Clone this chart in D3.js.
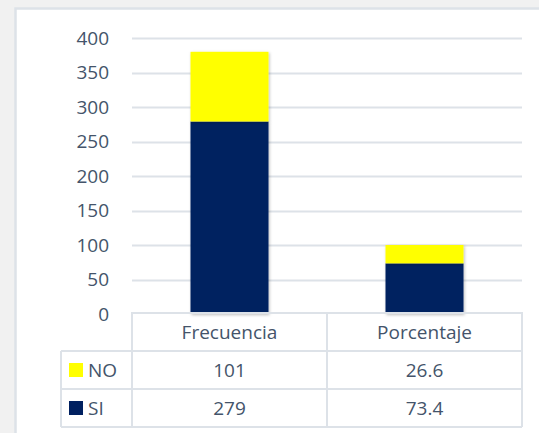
<!DOCTYPE html>
<html>
<head>
<meta charset="utf-8">
<script src="https://cdn.jsdelivr.net/npm/d3@7"></script>
<style>
  html, body { margin: 0; padding: 0; background: #f1f1f1; }
  svg { display: block; }
</style>
</head>
<body>
<div id="chart"></div>
<script>
// data
const categories = ["Frecuencia", "Porcentaje"];
const seriesNames = ["SI", "NO"];
const siValues = [279, 73.4];
const noValues = [101, 26.6];
const yTicks = [0, 50, 100, 150, 200, 250, 300, 350, 400];
const colors = {SI: "#002060", NO: "#FFFF00"};

const width = 539, height = 433;
const margin = {top: 38, left: 132, right: 17, bottom: 119};
const textColor = "#44546A";
const lineColor = "#dde2e8";
const font = "'Open Sans', sans-serif";
const fs = "19px";

const svg = d3.select("#chart").append("svg")
    .attr("width", width)
    .attr("height", height)
    .style("font-family", font);

// shadow for bars
const defs = svg.append("defs");
const f = defs.append("filter").attr("id", "shadow")
    .attr("x", "-20%").attr("y", "-20%").attr("width", "140%").attr("height", "140%");
f.append("feDropShadow").attr("dx", 1).attr("dy", 1).attr("stdDeviation", 1.5)
    .attr("flood-color", "#000").attr("flood-opacity", 0.25);

// background panel
svg.append("rect")
    .attr("x", 15.5).attr("y", 8.5)
    .attr("width", width).attr("height", height)
    .attr("fill", "#fff")
    .attr("stroke", lineColor)
    .attr("stroke-width", 2.5);

const x = d3.scaleBand()
    .domain(categories)
    .range([margin.left, width - margin.right])
    .paddingInner(0).paddingOuter(0);

const y = d3.scaleLinear()
    .domain([0, 400])
    .range([height - margin.bottom, margin.top]);

// gridlines
svg.append("g")
  .selectAll("line")
  .data(yTicks.filter(d => d > 0))
  .join("line")
    .attr("x1", margin.left)
    .attr("x2", width - margin.right)
    .attr("y1", d => Math.round(y(d)) + 0.5)
    .attr("y2", d => Math.round(y(d)) + 0.5)
    .attr("stroke", lineColor)
    .attr("stroke-width", 2);

// y axis labels
const yAxis = d3.axisLeft(y).tickValues(yTicks).tickSize(0).tickPadding(0);
const gy = svg.append("g")
    .attr("transform", `translate(${margin.left - 23},0)`)
    .call(yAxis);
gy.select(".domain").remove();
gy.selectAll("text")
    .attr("fill", textColor)
    .style("font-size", fs)
    .style("font-family", font);

// stacked bars
const table = categories.map((c, i) => ({cat: c, SI: siValues[i], NO: noValues[i]}));
const stack = d3.stack().keys(seriesNames)(table);
const barW = x.bandwidth() * 0.4;

svg.append("g")
  .selectAll("g")
  .data(stack)
  .join("g")
    .attr("fill", d => colors[d.key])
  .selectAll("rect")
  .data(d => d)
  .join("rect")
    .attr("x", d => x(d.data.cat) + (x.bandwidth() - barW) / 2)
    .attr("y", d => y(d[1]))
    .attr("width", barW)
    .attr("height", d => y(d[0]) - y(d[1]))
    .attr("filter", "url(#shadow)");

// data table
const rowH = 38;
const top0 = y(0) - 1;
const tbl = svg.append("g")
    .attr("stroke", lineColor)
    .attr("stroke-width", 2)
    .attr("fill", "none");

const xl = 61, xr = width - margin.right;
// header row
tbl.append("path")
    .attr("d", `M${margin.left},${top0 + 3 * rowH} V${top0} H${xr} V${top0 + 3 * rowH}`);
categories.forEach((c, i) => {
  if (i > 0) tbl.append("line")
      .attr("x1", x(c)).attr("x2", x(c))
      .attr("y1", top0).attr("y2", top0 + 3 * rowH);
});
// row lines
[1, 2, 3].forEach(r => {
  tbl.append("line")
      .attr("x1", xl).attr("x2", xr)
      .attr("y1", top0 + r * rowH).attr("y2", top0 + r * rowH);
});
tbl.append("line")
    .attr("x1", xl).attr("x2", xl)
    .attr("y1", top0 + rowH).attr("y2", top0 + 3 * rowH);

// header text
svg.append("g")
  .selectAll("text")
  .data(categories)
  .join("text")
    .attr("x", d => x(d) + x.bandwidth() / 2)
    .attr("y", top0 + rowH / 2)
    .attr("dy", "0.35em")
    .attr("text-anchor", "middle")
    .attr("fill", textColor)
    .style("font-size", fs)
    .text(d => d);

// rows: NO then SI
const rows = [
  {key: "NO", values: noValues},
  {key: "SI", values: siValues}
];
rows.forEach((row, r) => {
  const cy = top0 + (r + 1) * rowH + rowH / 2;
  svg.append("rect")
      .attr("x", 69).attr("y", cy - 7)
      .attr("width", 14).attr("height", 14)
      .attr("fill", colors[row.key]);
  svg.append("text")
      .attr("x", 88).attr("y", cy)
      .attr("dy", "0.35em")
      .attr("fill", textColor)
      .style("font-size", fs)
      .text(row.key);
  svg.append("g")
    .selectAll("text")
    .data(categories)
    .join("text")
      .attr("x", (c) => x(c) + x.bandwidth() / 2)
      .attr("y", cy)
      .attr("dy", "0.35em")
      .attr("text-anchor", "middle")
      .attr("fill", textColor)
      .style("font-size", fs)
      .text((c, i) => row.values[i]);
});
</script>
</body>
</html>
